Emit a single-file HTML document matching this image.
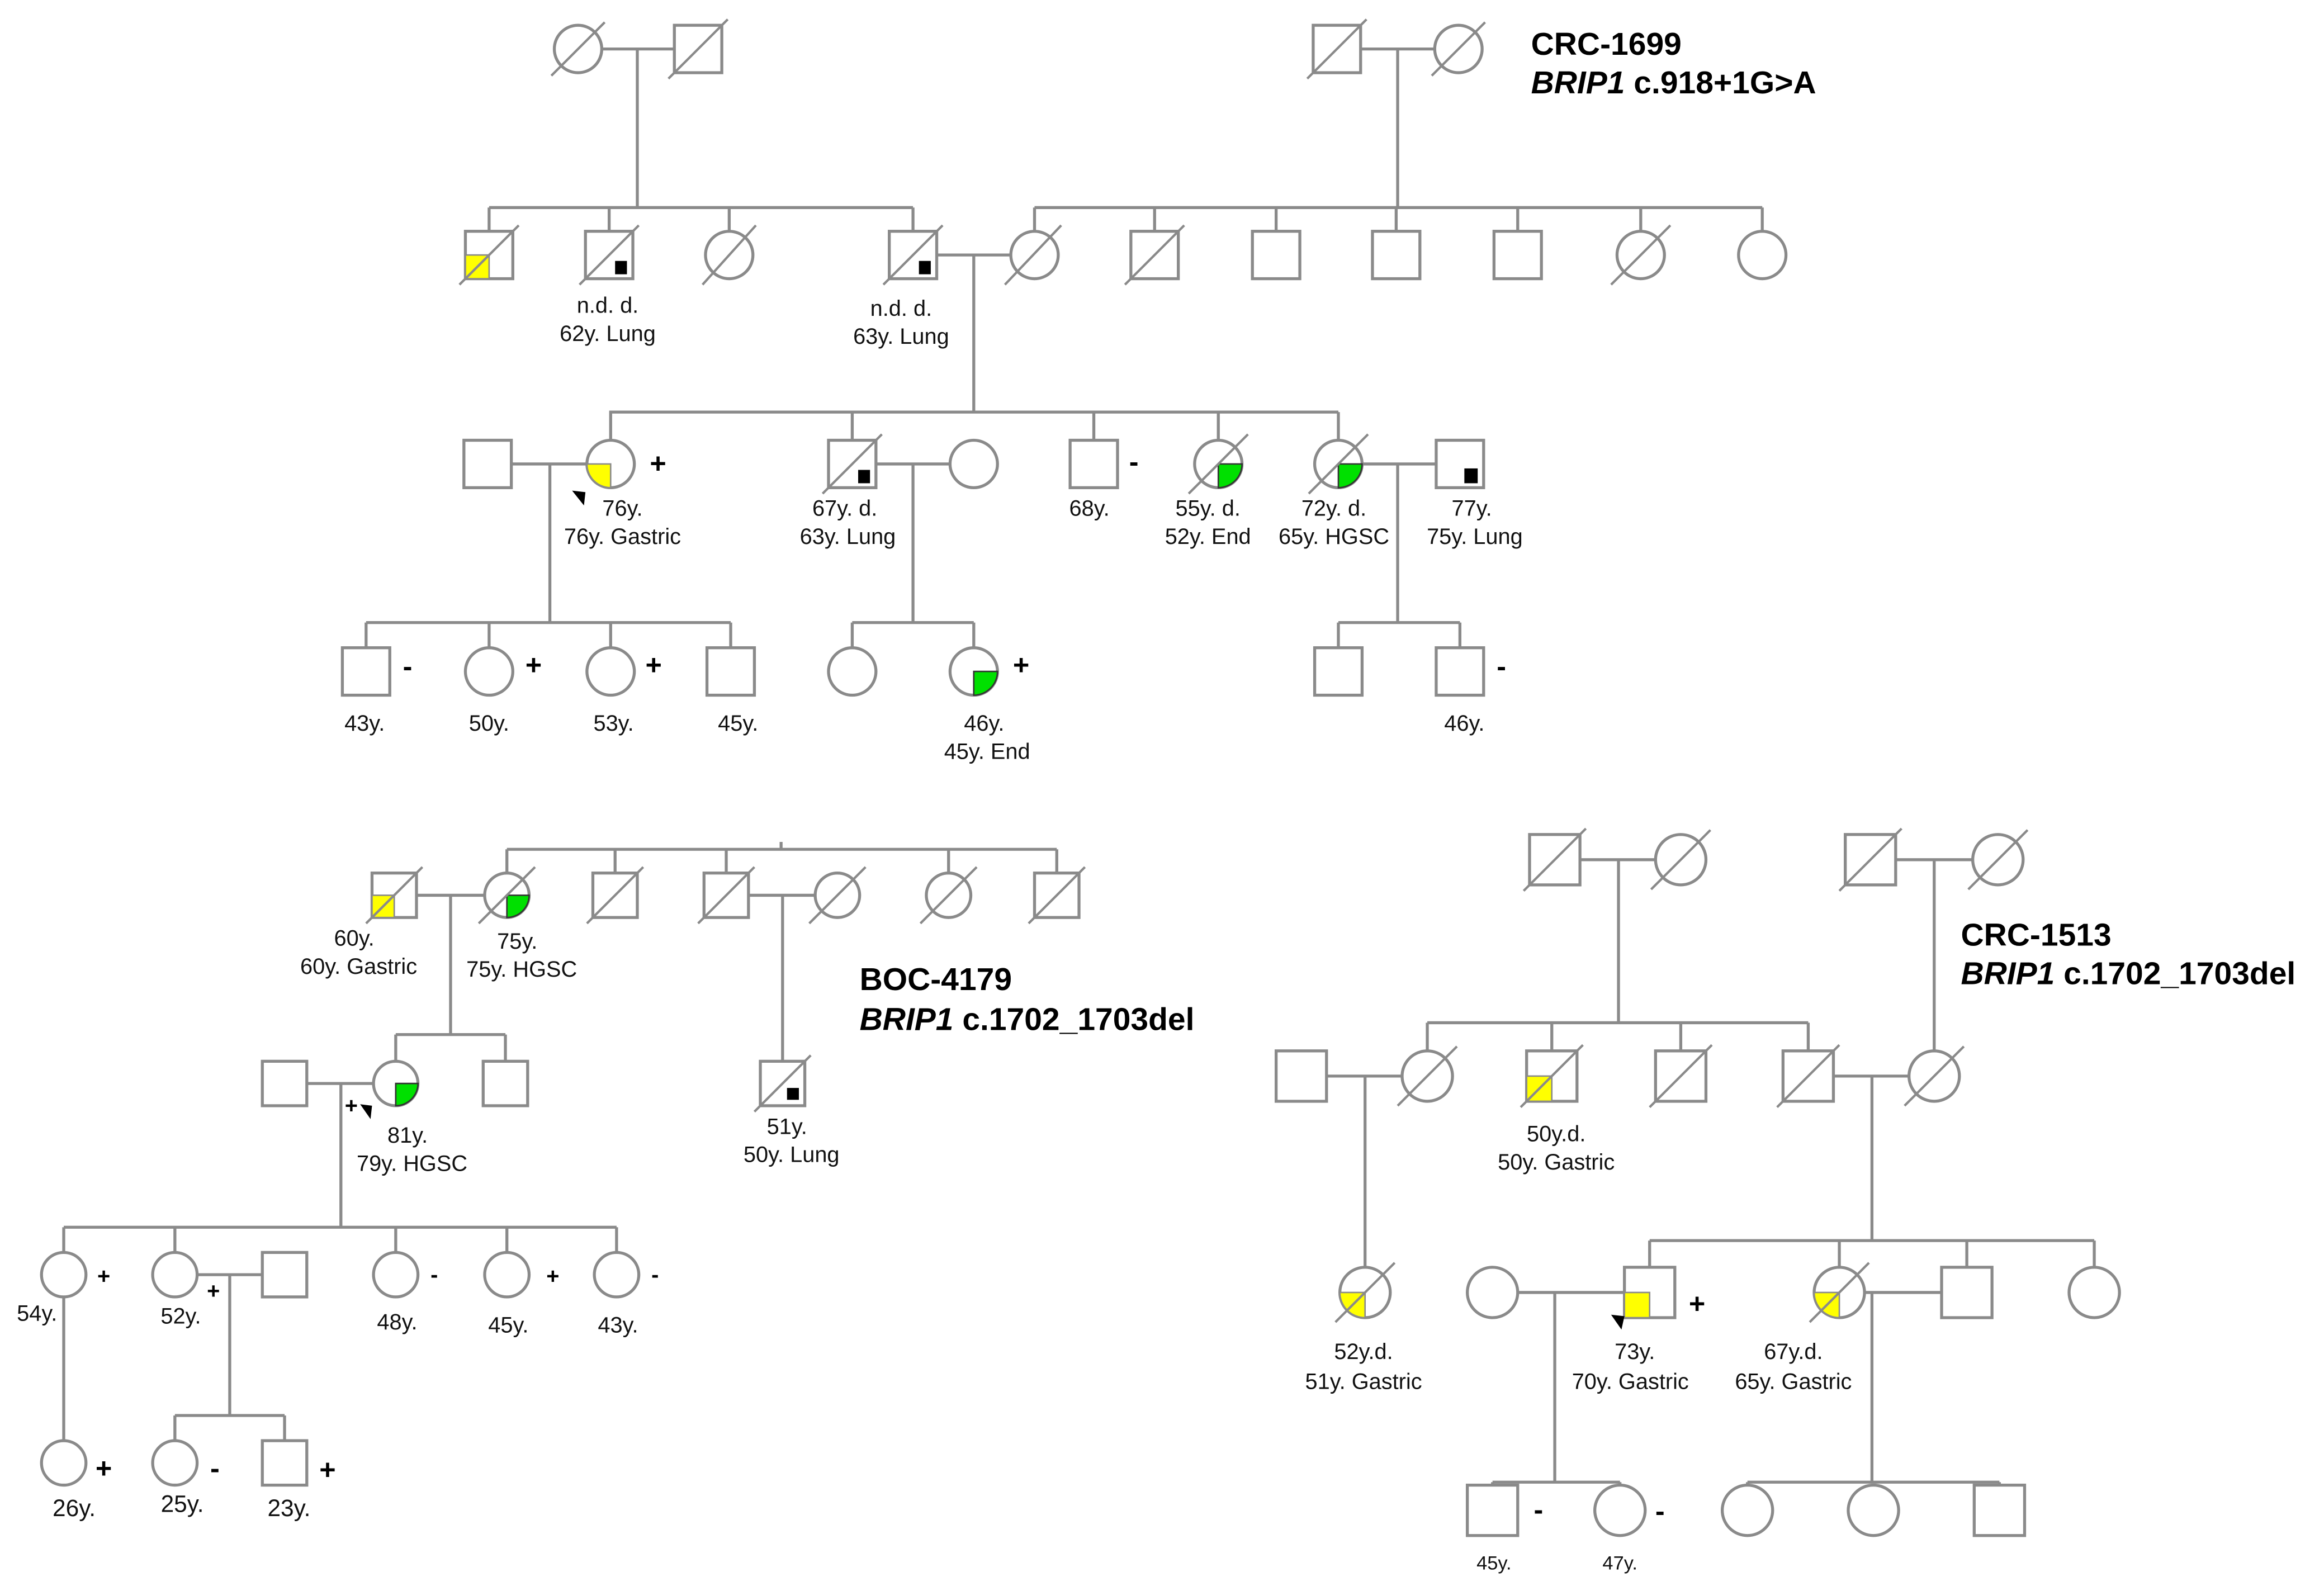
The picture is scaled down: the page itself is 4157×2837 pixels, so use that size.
<!DOCTYPE html>
<html><head><meta charset="utf-8"><style>
html,body{margin:0;padding:0;background:#fff;}
svg{display:block}
.l{stroke:#8a8a8a;stroke-width:2;fill:none}
.s{fill:#fff;stroke:#8a8a8a;stroke-width:2}
.d{stroke:#8a8a8a;stroke-width:1.6}
.t{font-family:"Liberation Sans",sans-serif;font-size:15px;fill:#111;text-anchor:middle}
.p{font-family:"Liberation Sans",sans-serif;font-size:19px;font-weight:bold;fill:#000;text-anchor:middle}
.h{font-family:"Liberation Sans",sans-serif;font-size:21.5px;font-weight:bold;fill:#000}
.y{fill:#ffff00;stroke:#8a8a8a;stroke-width:1}
.g{fill:#00e000;stroke:#333;stroke-width:1}
</style></head><body>
<svg width="4157" height="2837" viewBox="0 0 1568 1070" xmlns="http://www.w3.org/2000/svg">
<!-- ================= CRC-1699 ================= -->
<g>
<path class="l" d="M406 33H455 M430 33V140 M918 33H968 M943 33V140
M330 140H616 M330 140V156 M411 140V156 M492 140V156 M616 140V156
M698 140H1189 M698 140V156 M779 140V156 M861 140V156 M942 140V156 M1024 140V156 M1107 140V156 M1189 140V156
M632 172H682 M657 172V278
M411 278H903 M412 278V297 M575 278V297 M738 278V297 M822 278V297 M903 278V297
M345 313H396 M371 313V420 M591 313H641 M616 313V420 M919 313H969 M943 313V420
M247 420H493 M247 420V437 M330 420V437 M412 420V437 M493 420V437
M575 420H657 M575 420V437 M657 420V437
M903 420H985 M903 420V437 M985 420V437"/>
<circle class="s" cx="390" cy="33" r="16"/><line class="d" x1="372" y1="51" x2="408" y2="15"/>
<rect class="s" x="455" y="17" width="32" height="32"/><line class="d" x1="451" y1="53" x2="491" y2="13"/>
<rect class="s" x="886" y="17" width="32" height="32"/><line class="d" x1="882" y1="53" x2="922" y2="13"/>
<circle class="s" cx="984" cy="33" r="16"/><line class="d" x1="966" y1="51" x2="1002" y2="15"/>
<rect class="s" x="314" y="156" width="32" height="32"/><rect class="y" x="314" y="172" width="16" height="16"/><line class="d" x1="310" y1="192" x2="350" y2="152"/>
<rect class="s" x="395" y="156" width="32" height="32"/><rect x="415" y="176" width="8" height="9" fill="#000"/><line class="d" x1="391" y1="192" x2="431" y2="152"/>
<circle class="s" cx="492" cy="172" r="16"/><line class="d" x1="474" y1="192" x2="510" y2="152"/>
<rect class="s" x="600" y="156" width="32" height="32"/><rect x="620" y="176" width="8" height="9" fill="#000"/><line class="d" x1="596" y1="192" x2="636" y2="152"/>
<circle class="s" cx="698" cy="172" r="16"/><line class="d" x1="678" y1="192" x2="716" y2="152"/>
<rect class="s" x="763" y="156" width="32" height="32"/><line class="d" x1="759" y1="192" x2="799" y2="152"/>
<rect class="s" x="845" y="156" width="32" height="32"/>
<rect class="s" x="926" y="156" width="32" height="32"/>
<rect class="s" x="1008" y="156" width="32" height="32"/>
<circle class="s" cx="1107" cy="172" r="16"/><line class="d" x1="1087" y1="192" x2="1127" y2="152"/>
<circle class="s" cx="1189" cy="172" r="16"/>
<text class="t" x="410" y="211">n.d. d.</text><text class="t" x="410" y="230">62y. Lung</text>
<text class="t" x="608" y="213">n.d. d.</text><text class="t" x="608" y="232">63y. Lung</text>
<rect class="s" x="313" y="297" width="32" height="32"/>
<circle class="s" cx="412" cy="313" r="16"/><path class="y" d="M412 313V329A16 16 0 0 1 396 313Z"/>
<text class="p" x="444" y="319">+</text><path d="M386 331L395 332L394 341Z" fill="#000"/>
<rect class="s" x="559" y="297" width="32" height="32"/><rect x="579" y="317" width="8" height="9" fill="#000"/><line class="d" x1="555" y1="333" x2="595" y2="293"/>
<circle class="s" cx="657" cy="313" r="16"/>
<rect class="s" x="722" y="297" width="32" height="32"/><text class="p" x="765" y="318">-</text>
<circle class="s" cx="822" cy="313" r="16"/><path class="g" d="M822 313H838A16 16 0 0 1 822 329Z"/><line class="d" x1="802" y1="333" x2="842" y2="293"/>
<circle class="s" cx="903" cy="313" r="16"/><path class="g" d="M903 313H919A16 16 0 0 1 903 329Z"/><line class="d" x1="883" y1="333" x2="923" y2="293"/>
<rect class="s" x="969" y="297" width="32" height="32"/><rect x="988" y="316" width="9" height="10" fill="#000"/>
<text class="t" x="420" y="348">76y.</text><text class="t" x="420" y="367">76y. Gastric</text>
<text class="t" x="570" y="348">67y. d.</text><text class="t" x="572" y="367">63y. Lung</text>
<text class="t" x="735" y="348">68y.</text>
<text class="t" x="815" y="348">55y. d.</text><text class="t" x="815" y="367">52y. End</text>
<text class="t" x="900" y="348">72y. d.</text><text class="t" x="900" y="367">65y. HGSC</text>
<text class="t" x="993" y="348">77y.</text><text class="t" x="995" y="367">75y. Lung</text>
<rect class="s" x="231" y="437" width="32" height="32"/><text class="p" x="275" y="456">-</text>
<circle class="s" cx="330" cy="453" r="16"/><text class="p" x="360" y="455">+</text>
<circle class="s" cx="412" cy="453" r="16"/><text class="p" x="441" y="455">+</text>
<rect class="s" x="477" y="437" width="32" height="32"/>
<circle class="s" cx="575" cy="453" r="16"/>
<circle class="s" cx="657" cy="453" r="16"/><path class="g" d="M657 453H673A16 16 0 0 1 657 469Z"/><text class="p" x="689" y="455">+</text>
<rect class="s" x="887" y="437" width="32" height="32"/>
<rect class="s" x="969" y="437" width="32" height="32"/><text class="p" x="1013" y="456">-</text>
<text class="t" x="246" y="493">43y.</text><text class="t" x="330" y="493">50y.</text><text class="t" x="414" y="493">53y.</text><text class="t" x="498" y="493">45y.</text>
<text class="t" x="664" y="493">46y.</text><text class="t" x="666" y="512">45y. End</text>
<text class="t" x="988" y="493">46y.</text>
<text class="h" x="1033" y="37">CRC-1699</text>
<text class="h" x="1033" y="63"><tspan font-style="italic">BRIP1</tspan> c.918+1G&gt;A</text>
</g>

<!-- ================= BOC-4179 ================= -->
<g>
<path class="l" d="M342 573H713 M527 568V573 M342 573V589 M415 573V589 M490 573V589 M640 573V589 M713 573V589
M281 604H327 M304 604V698 M505 604H550 M528 604V716
M267 698H341 M267 698V716 M341 698V716
M207 731H252 M230 731V828
M43 828H416 M43 828V845 M118 828V845 M267 828V845 M342 828V845 M416 828V845
M133 860H177 M155 860V955 M43 875V972
M118 955H192 M118 955V972 M192 955V972"/>
<rect class="s" x="251" y="589" width="30" height="30"/><rect class="y" x="251" y="604" width="15" height="15"/><line class="d" x1="247" y1="623" x2="285" y2="585"/>
<circle class="s" cx="342" cy="604" r="15"/><path class="g" d="M342 604H357A15 15 0 0 1 342 619Z"/><line class="d" x1="323" y1="623" x2="361" y2="585"/>
<rect class="s" x="400" y="589" width="30" height="30"/><line class="d" x1="396" y1="623" x2="434" y2="585"/>
<rect class="s" x="475" y="589" width="30" height="30"/><line class="d" x1="471" y1="623" x2="509" y2="585"/>
<circle class="s" cx="565" cy="604" r="15"/><line class="d" x1="546" y1="623" x2="584" y2="585"/>
<circle class="s" cx="640" cy="604" r="15"/><line class="d" x1="621" y1="623" x2="659" y2="585"/>
<rect class="s" x="698" y="589" width="30" height="30"/><line class="d" x1="694" y1="623" x2="732" y2="585"/>
<text class="t" x="239" y="638">60y.</text><text class="t" x="242" y="657">60y. Gastric</text>
<text class="t" x="349" y="640">75y.</text><text class="t" x="352" y="659">75y. HGSC</text>
<rect class="s" x="513" y="716" width="30" height="30"/><rect x="531" y="734" width="8" height="8" fill="#000"/><line class="d" x1="509" y1="750" x2="547" y2="712"/>
<text class="t" x="531" y="765">51y.</text><text class="t" x="534" y="784">50y. Lung</text>
<rect class="s" x="177" y="716" width="30" height="30"/>
<circle class="s" cx="267" cy="731" r="15"/><path class="g" d="M267 731H282A15 15 0 0 1 267 746Z"/>
<rect class="s" x="326" y="716" width="30" height="30"/>
<text class="p" x="237" y="751" style="font-size:15px">+</text><path d="M243 745L251 746L250 755Z" fill="#000"/>
<text class="t" x="275" y="771">81y.</text><text class="t" x="278" y="790">79y. HGSC</text>
<circle class="s" cx="43" cy="860" r="15"/><text class="p" x="70" y="866" style="font-size:15px">+</text>
<circle class="s" cx="118" cy="860" r="15"/><text class="p" x="144" y="876" style="font-size:15px">+</text>
<rect class="s" x="177" y="845" width="30" height="30"/>
<circle class="s" cx="267" cy="860" r="15"/><text class="p" x="293" y="865" style="font-size:15px">-</text>
<circle class="s" cx="342" cy="860" r="15"/><text class="p" x="373" y="866" style="font-size:15px">+</text>
<circle class="s" cx="416" cy="860" r="15"/><text class="p" x="442" y="865" style="font-size:15px">-</text>
<text class="t" x="25" y="891">54y.</text><text class="t" x="122" y="893">52y.</text><text class="t" x="268" y="897">48y.</text><text class="t" x="343" y="899">45y.</text><text class="t" x="417" y="899">43y.</text>
<circle class="s" cx="43" cy="987" r="15"/><text class="p" x="70" y="997">+</text>
<circle class="s" cx="118" cy="987" r="15"/><text class="p" x="145" y="997">-</text>
<rect class="s" x="177" y="972" width="30" height="30"/><text class="p" x="221" y="998">+</text>
<text class="t" x="50" y="1023" style="font-size:16px">26y.</text><text class="t" x="123" y="1020" style="font-size:16px">25y.</text><text class="t" x="195" y="1023" style="font-size:16px">23y.</text>
<text class="h" x="580" y="668">BOC-4179</text>
<text class="h" x="580" y="695"><tspan font-style="italic">BRIP1</tspan> c.1702_1703del</text>
</g>

<!-- ================= CRC-1513 ================= -->
<g>
<path class="l" d="M1066 580H1117 M1092 580V690 M1279 580H1331 M1305 580V709
M963 690H1220 M963 690V709 M1047 690V709 M1134 690V709 M1220 690V709
M895 726H946 M921 726V855 M1237 726H1288 M1263 726V837
M1113 837H1413 M1113 837V855 M1241 837V855 M1327 837V855 M1413 837V855
M1024 872H1096 M1049 872V1000 M1258 872H1310 M1263 872V1000
M1007 1000H1093 M1007 1000V1002 M1093 1000V1002
M1179 1000H1349 M1179 1000V1002 M1349 1000V1002"/>
<rect class="s" x="1032" y="563" width="34" height="34"/><line class="d" x1="1028" y1="601" x2="1070" y2="559"/>
<circle class="s" cx="1134" cy="580" r="17"/><line class="d" x1="1114" y1="600" x2="1154" y2="560"/>
<rect class="s" x="1245" y="563" width="34" height="34"/><line class="d" x1="1241" y1="601" x2="1283" y2="559"/>
<circle class="s" cx="1348" cy="580" r="17"/><line class="d" x1="1328" y1="600" x2="1368" y2="560"/>
<rect class="s" x="861" y="709" width="34" height="34"/>
<circle class="s" cx="963" cy="726" r="17"/><line class="d" x1="943" y1="746" x2="983" y2="706"/>
<rect class="s" x="1030" y="709" width="34" height="34"/><rect class="y" x="1030" y="726" width="17" height="17"/><line class="d" x1="1026" y1="747" x2="1068" y2="705"/>
<rect class="s" x="1117" y="709" width="34" height="34"/><line class="d" x1="1113" y1="747" x2="1155" y2="705"/>
<rect class="s" x="1203" y="709" width="34" height="34"/><line class="d" x1="1199" y1="747" x2="1241" y2="705"/>
<circle class="s" cx="1305" cy="726" r="17"/><line class="d" x1="1285" y1="746" x2="1325" y2="706"/>
<text class="t" x="1050" y="770">50y.d.</text><text class="t" x="1050" y="789">50y. Gastric</text>
<circle class="s" cx="921" cy="872" r="17"/><path class="y" d="M921 872V889A17 17 0 0 1 904 872Z"/><line class="d" x1="901" y1="892" x2="941" y2="852"/>
<text class="t" x="920" y="917">52y.d.</text><text class="t" x="920" y="937">51y. Gastric</text>
<circle class="s" cx="1007" cy="872" r="17"/>
<rect class="s" x="1096" y="855" width="34" height="34"/><rect class="y" x="1096" y="872" width="17" height="17"/>
<text class="p" x="1145" y="886">+</text><path d="M1087 887L1096 888L1094 897Z" fill="#000"/>
<circle class="s" cx="1241" cy="872" r="17"/><path class="y" d="M1241 872V889A17 17 0 0 1 1224 872Z"/><line class="d" x1="1221" y1="892" x2="1261" y2="852"/>
<rect class="s" x="1310" y="855" width="34" height="34"/>
<circle class="s" cx="1413" cy="872" r="17"/>
<text class="t" x="1103" y="917">73y.</text><text class="t" x="1100" y="937">70y. Gastric</text>
<text class="t" x="1210" y="917">67y.d.</text><text class="t" x="1210" y="937">65y. Gastric</text>
<rect class="s" x="990" y="1002" width="34" height="34"/><text class="p" x="1038" y="1025">-</text>
<circle class="s" cx="1093" cy="1019" r="17"/><text class="p" x="1120" y="1026">-</text>
<circle class="s" cx="1179" cy="1019" r="17"/>
<circle class="s" cx="1264" cy="1019" r="17"/>
<rect class="s" x="1332" y="1002" width="34" height="34"/>
<text class="t" x="1008" y="1059" style="font-size:13px">45y.</text><text class="t" x="1093" y="1059" style="font-size:13px">47y.</text>
<text class="h" x="1323" y="638">CRC-1513</text>
<text class="h" x="1323" y="664"><tspan font-style="italic">BRIP1</tspan> c.1702_1703del</text>
</g>
</svg>
</body></html>
